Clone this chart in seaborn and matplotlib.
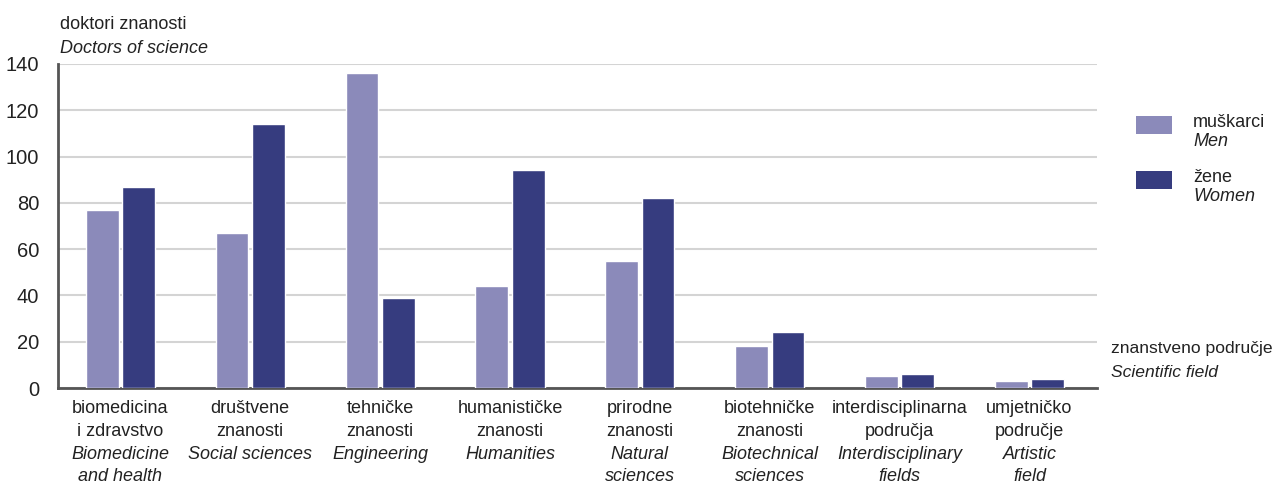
import pandas as pd
import seaborn as sns
import matplotlib.pyplot as plt
from matplotlib.patches import Rectangle

# data
fields_hr = ["biomedicina\ni zdravstvo", "društvene\nznanosti", "tehničke\nznanosti",
             "humanističke\nznanosti", "prirodne\nznanosti", "biotehničke\nznanosti",
             "interdisciplinarna\npodručja", "umjetničko\npodručje"]
fields_en = ["Biomedicine\nand health", "Social sciences", "Engineering", "Humanities",
             "Natural\nsciences", "Biotechnical\nsciences", "Interdisciplinary\nfields",
             "Artistic\nfield"]
men = [77, 67, 136, 44, 55, 18, 5, 3]
women = [87, 114, 39, 94, 82, 24, 6, 4]
series = ["muškarci", "žene"]
series_en = ["Men", "Women"]
colors = ["#8b8aba", "#363c7f"]
y_ticks = [0, 20, 40, 60, 80, 100, 120, 140]

df = pd.DataFrame({
    "field": fields_hr * 2,
    "gender": [series[0]] * len(men) + [series[1]] * len(women),
    "value": men + women,
})

sns.set_theme(style="white")
plt.rcParams["font.family"] = ["Liberation Sans", "DejaVu Sans"]

W, H = 1276, 492
TXT = "#222222"
FS = 13

fig = plt.figure(figsize=(W / 100, H / 100), dpi=100)
ax = fig.add_axes([58 / W, 1 - 388 / H, 1039 / W, 324 / H])

sns.barplot(data=df, x="field", y="value", hue="gender", palette=colors,
            width=0.56, gap=0.1, saturation=1, legend=False, ax=ax, zorder=3)

# axes styling
ax.set_ylim(0, 140)
ax.set_xlim(-0.48, 7.52)
ax.set_yticks(y_ticks)
ax.set_yticklabels([str(t) for t in y_ticks], fontsize=14.5, color=TXT)
ax.tick_params(axis="y", length=0, pad=13.5)
ax.yaxis.grid(True, color="#d4d4d4", linewidth=1.5, zorder=0)
ax.set_axisbelow(True)
for s in ["top", "right"]:
    ax.spines[s].set_visible(False)
for s in ["left", "bottom"]:
    ax.spines[s].set_color("#555555")
    ax.spines[s].set_linewidth(2)
ax.set_xlabel("")
ax.set_ylabel("")
ax.set_xticks(range(len(fields_hr)))
ax.set_xticklabels([""] * len(fields_hr))
ax.tick_params(axis="x", length=0)

# two-language category labels, one line at a time: croatian regular, english italic
for i, (hr, en) in enumerate(zip(fields_hr, fields_en)):
    lines = [(t, "normal") for t in hr.split("\n")] + [(t, "italic") for t in en.split("\n")]
    for k, (t, st) in enumerate(lines):
        ax.annotate(t, xy=(i, 0), xycoords=("data", "axes fraction"),
                    xytext=(0, -18 - k * 16.4), textcoords="offset points",
                    ha="center", va="baseline", fontsize=FS, style=st, color=TXT)


def label(x, y_base, s, italic=False, fs=FS):
    fig.text(x / W, 1 - y_base / H, s, fontsize=fs, va="baseline",
             style="italic" if italic else "normal", color=TXT)


# axis titles
label(60, 29, "doktori znanosti")
label(60, 53, "Doctors of science", italic=True)
label(1111, 353, "znanstveno područje", fs=12.6)
label(1111, 377, "Scientific field", italic=True, fs=12.6)

# legend
for k, (lab, lab_en, c) in enumerate(zip(series, series_en, colors)):
    top = 116 + k * 55
    fig.patches.append(Rectangle((1136 / W, 1 - (top + 18) / H), 36 / W, 18 / H,
                                 transform=fig.transFigure, facecolor=c, edgecolor="none"))
    label(1193, top + 11, lab)
    label(1193, top + 30, lab_en, italic=True)

fig.savefig("out.png", dpi=100, facecolor="white")
